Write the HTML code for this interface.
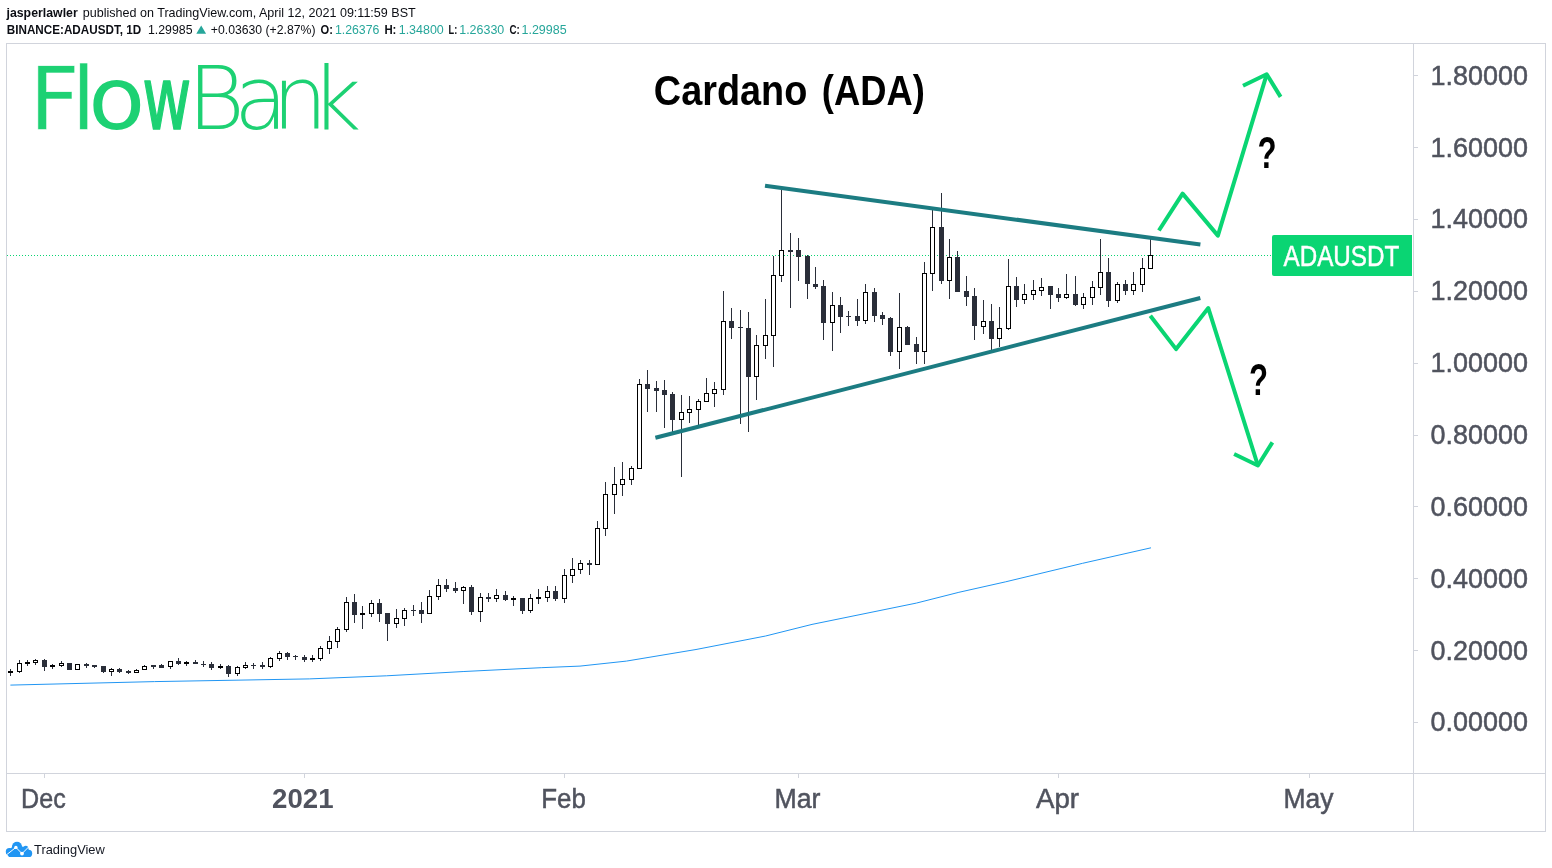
<!DOCTYPE html>
<html lang="en"><head><meta charset="utf-8"><title>Cardano (ADA) - ADAUSDT 1D</title>
<style>
html,body{margin:0;padding:0;background:#fff;}
body{width:1552px;height:868px;overflow:hidden;font-family:"Liberation Sans",sans-serif;}
svg{display:block}
text{font-family:"Liberation Sans",sans-serif;}
.b{font-weight:bold}
.ax .b{stroke:none}
.hd{font-size:13px;fill:#0c0e14}
.tl{fill:#26a69a}
.ax{font-size:27px;fill:#50535e;stroke:#50535e;stroke-width:0.5px}
.q{font-size:44.5px;font-weight:bold;fill:#000}
</style></head><body>
<svg width="1552" height="868" viewBox="0 0 1552 868">
<rect width="1552" height="868" fill="#fff"/>

<g class="hd">
<text x="6.5" y="17" class="b" textLength="71.2" lengthAdjust="spacingAndGlyphs">jasperlawler</text>
<text x="82.8" y="17" textLength="332.9" lengthAdjust="spacingAndGlyphs">published on TradingView.com, April 12, 2021 09:11:59 BST</text>
<text x="6.8" y="34" class="b" textLength="134.4" lengthAdjust="spacingAndGlyphs">BINANCE:ADAUSDT, 1D</text>
<text x="148" y="34" textLength="44.5" lengthAdjust="spacingAndGlyphs">1.29985</text>
<path d="M196.3 33.8 L201.2 25.6 L206.1 33.8 Z" fill="#26a69a"/>
<text x="210.8" y="34" textLength="104.7" lengthAdjust="spacingAndGlyphs">+0.03630 (+2.87%)</text>
<text x="320.6" y="34" class="b" textLength="12.4" lengthAdjust="spacingAndGlyphs">O:</text>
<text x="334.9" y="34" class="tl" textLength="44.5" lengthAdjust="spacingAndGlyphs">1.26376</text>
<text x="384.4" y="34" class="b" textLength="12.0" lengthAdjust="spacingAndGlyphs">H:</text>
<text x="398.7" y="34" class="tl" textLength="45.1" lengthAdjust="spacingAndGlyphs">1.34800</text>
<text x="448.6" y="34" class="b" textLength="8.7" lengthAdjust="spacingAndGlyphs">L:</text>
<text x="459.2" y="34" class="tl" textLength="45.1" lengthAdjust="spacingAndGlyphs">1.26330</text>
<text x="509.5" y="34" class="b" textLength="10.3" lengthAdjust="spacingAndGlyphs">C:</text>
<text x="521.5" y="34" class="tl" textLength="45.1" lengthAdjust="spacingAndGlyphs">1.29985</text>
</g>
<g fill="#d1d4dc" shape-rendering="crispEdges">
<rect x="6" y="43" width="1540" height="1"/>
<rect x="6" y="831" width="1540" height="1"/>
<rect x="6" y="43" width="1" height="789"/>
<rect x="1545" y="43" width="1" height="789"/>
<rect x="1413" y="43" width="1" height="789"/>
<rect x="6" y="773" width="1540" height="1"/>
</g>
<g fill="#d1d4dc" shape-rendering="crispEdges">
<rect x="1414" y="722" width="4" height="1"/>
<rect x="1414" y="650" width="4" height="1"/>
<rect x="1414" y="578" width="4" height="1"/>
<rect x="1414" y="506" width="4" height="1"/>
<rect x="1414" y="435" width="4" height="1"/>
<rect x="1414" y="363" width="4" height="1"/>
<rect x="1414" y="291" width="4" height="1"/>
<rect x="1414" y="219" width="4" height="1"/>
<rect x="1414" y="147" width="4" height="1"/>
<rect x="1414" y="75" width="4" height="1"/>
<rect x="44" y="774" width="1" height="4"/>
<rect x="304" y="774" width="1" height="4"/>
<rect x="564" y="774" width="1" height="4"/>
<rect x="798" y="774" width="1" height="4"/>
<rect x="1058" y="774" width="1" height="4"/>
<rect x="1309" y="774" width="1" height="4"/>
</g>
<g class="ax">
<text x="1430.6" y="731.4" textLength="97.4" lengthAdjust="spacingAndGlyphs">0.00000</text>
<text x="1430.6" y="659.5" textLength="97.4" lengthAdjust="spacingAndGlyphs">0.20000</text>
<text x="1430.6" y="587.7" textLength="97.4" lengthAdjust="spacingAndGlyphs">0.40000</text>
<text x="1430.6" y="515.8" textLength="97.4" lengthAdjust="spacingAndGlyphs">0.60000</text>
<text x="1430.6" y="444.0" textLength="97.4" lengthAdjust="spacingAndGlyphs">0.80000</text>
<text x="1430.6" y="372.1" textLength="97.4" lengthAdjust="spacingAndGlyphs">1.00000</text>
<text x="1430.6" y="300.3" textLength="97.4" lengthAdjust="spacingAndGlyphs">1.20000</text>
<text x="1430.6" y="228.4" textLength="97.4" lengthAdjust="spacingAndGlyphs">1.40000</text>
<text x="1430.6" y="156.6" textLength="97.4" lengthAdjust="spacingAndGlyphs">1.60000</text>
<text x="1430.6" y="84.8" textLength="97.4" lengthAdjust="spacingAndGlyphs">1.80000</text>
<text x="21.1" y="808" textLength="44.7" lengthAdjust="spacingAndGlyphs">Dec</text>
<text x="272.1" y="808" class="b" textLength="61.5" lengthAdjust="spacingAndGlyphs">2021</text>
<text x="541.2" y="808" textLength="44.6" lengthAdjust="spacingAndGlyphs">Feb</text>
<text x="774.5" y="808" textLength="46" lengthAdjust="spacingAndGlyphs">Mar</text>
<text x="1036.0" y="808" textLength="43" lengthAdjust="spacingAndGlyphs">Apr</text>
<text x="1283.5" y="808" textLength="50" lengthAdjust="spacingAndGlyphs">May</text>
</g>
<text y="129.2" fill="#1dd173" font-size="88" style="font-family:'DejaVu Sans','Liberation Sans',sans-serif"><tspan x="29.3 71.6" stroke="#fff" stroke-width="0.5">Fl</tspan><tspan x="88.3" textLength="57" lengthAdjust="spacingAndGlyphs">o</tspan><tspan x="142.3" textLength="49.1" lengthAdjust="spacingAndGlyphs" stroke="#1dd173" stroke-width="1.6" stroke-linejoin="round">w</tspan><tspan font-weight="200" x="187.2 234 272 310.5">Bank</tspan></text>
<text y="104.8" font-size="43" font-weight="bold" fill="#000"><tspan x="653.8" textLength="153.5" lengthAdjust="spacingAndGlyphs">Cardano</tspan> <tspan x="821.8" textLength="103" lengthAdjust="spacingAndGlyphs">(ADA)</tspan></text>
<polyline fill="none" stroke="#2196f3" stroke-width="1" points="10.4,685.1 154.6,681.6 309.3,678.9 386.6,675.8 463.9,671.5 541.2,667.7 580,666.1 626.4,661.1 696,649.5 765.6,636 812,624.4 916.3,603.1 958.9,592.3 1005.3,581.9 1082.6,563.3 1151,547.8"/>
<line x1="7" y1="255.5" x2="1272" y2="255.5" stroke="#0ad573" stroke-width="1" stroke-dasharray="1 2" shape-rendering="crispEdges"/>
<g shape-rendering="crispEdges">
<rect x="10" y="669" width="1" height="7" fill="#2a2e39"/>
<rect x="8" y="671" width="5" height="2" fill="#000000"/>
<rect x="19" y="660" width="1" height="13" fill="#2a2e39"/>
<rect x="17" y="663" width="5" height="9" fill="#000000"/>
<rect x="18" y="664" width="3" height="7" fill="#fff"/>
<rect x="27" y="660" width="1" height="6" fill="#2a2e39"/>
<rect x="25" y="662" width="5" height="2" fill="#000000"/>
<rect x="35" y="659" width="1" height="6" fill="#2a2e39"/>
<rect x="33" y="660" width="5" height="3" fill="#000000"/>
<rect x="34" y="661" width="3" height="1" fill="#fff"/>
<rect x="44" y="659" width="1" height="12" fill="#2a2e39"/>
<rect x="42" y="660" width="5" height="7" fill="#2a2e39"/>
<rect x="52" y="664" width="1" height="5" fill="#2a2e39"/>
<rect x="50" y="665" width="5" height="2" fill="#000000"/>
<rect x="61" y="661" width="1" height="6" fill="#2a2e39"/>
<rect x="59" y="663" width="5" height="3" fill="#000000"/>
<rect x="60" y="664" width="3" height="1" fill="#fff"/>
<rect x="69" y="663" width="1" height="7" fill="#2a2e39"/>
<rect x="67" y="663" width="5" height="7" fill="#2a2e39"/>
<rect x="77" y="664" width="1" height="6" fill="#2a2e39"/>
<rect x="75" y="664" width="5" height="6" fill="#000000"/>
<rect x="76" y="665" width="3" height="4" fill="#fff"/>
<rect x="86" y="663" width="1" height="5" fill="#2a2e39"/>
<rect x="84" y="664" width="5" height="2" fill="#2a2e39"/>
<rect x="94" y="665" width="1" height="3" fill="#2a2e39"/>
<rect x="92" y="665" width="5" height="2" fill="#2a2e39"/>
<rect x="103" y="666" width="1" height="7" fill="#2a2e39"/>
<rect x="101" y="666" width="5" height="6" fill="#2a2e39"/>
<rect x="111" y="668" width="1" height="8" fill="#2a2e39"/>
<rect x="109" y="669" width="5" height="3" fill="#000000"/>
<rect x="110" y="670" width="3" height="1" fill="#fff"/>
<rect x="119" y="668" width="1" height="5" fill="#2a2e39"/>
<rect x="117" y="669" width="5" height="3" fill="#2a2e39"/>
<rect x="128" y="670" width="1" height="4" fill="#2a2e39"/>
<rect x="126" y="671" width="5" height="2" fill="#2a2e39"/>
<rect x="136" y="669" width="1" height="4" fill="#2a2e39"/>
<rect x="134" y="670" width="5" height="3" fill="#000000"/>
<rect x="135" y="671" width="3" height="1" fill="#fff"/>
<rect x="144" y="665" width="1" height="5" fill="#2a2e39"/>
<rect x="142" y="666" width="5" height="4" fill="#000000"/>
<rect x="143" y="667" width="3" height="2" fill="#fff"/>
<rect x="153" y="665" width="1" height="4" fill="#2a2e39"/>
<rect x="151" y="665" width="5" height="2" fill="#2a2e39"/>
<rect x="161" y="664" width="1" height="4" fill="#2a2e39"/>
<rect x="159" y="665" width="5" height="3" fill="#2a2e39"/>
<rect x="170" y="661" width="1" height="8" fill="#2a2e39"/>
<rect x="168" y="661" width="5" height="6" fill="#000000"/>
<rect x="169" y="662" width="3" height="4" fill="#fff"/>
<rect x="178" y="658" width="1" height="7" fill="#2a2e39"/>
<rect x="176" y="661" width="5" height="3" fill="#2a2e39"/>
<rect x="186" y="661" width="1" height="5" fill="#2a2e39"/>
<rect x="184" y="662" width="5" height="2" fill="#000000"/>
<rect x="195" y="660" width="1" height="4" fill="#2a2e39"/>
<rect x="193" y="662" width="5" height="2" fill="#2a2e39"/>
<rect x="203" y="661" width="1" height="6" fill="#2a2e39"/>
<rect x="201" y="664" width="5" height="1" fill="#2a2e39"/>
<rect x="211" y="662" width="1" height="8" fill="#2a2e39"/>
<rect x="209" y="664" width="5" height="4" fill="#2a2e39"/>
<rect x="220" y="664" width="1" height="5" fill="#2a2e39"/>
<rect x="218" y="666" width="5" height="2" fill="#000000"/>
<rect x="228" y="665" width="1" height="12" fill="#2a2e39"/>
<rect x="226" y="666" width="5" height="8" fill="#2a2e39"/>
<rect x="237" y="666" width="1" height="10" fill="#2a2e39"/>
<rect x="235" y="667" width="5" height="7" fill="#000000"/>
<rect x="236" y="668" width="3" height="5" fill="#fff"/>
<rect x="245" y="662" width="1" height="7" fill="#2a2e39"/>
<rect x="243" y="665" width="5" height="3" fill="#000000"/>
<rect x="244" y="666" width="3" height="1" fill="#fff"/>
<rect x="253" y="663" width="1" height="6" fill="#2a2e39"/>
<rect x="251" y="665" width="5" height="1" fill="#2a2e39"/>
<rect x="262" y="662" width="1" height="7" fill="#2a2e39"/>
<rect x="260" y="665" width="5" height="2" fill="#2a2e39"/>
<rect x="270" y="657" width="1" height="11" fill="#2a2e39"/>
<rect x="268" y="658" width="5" height="9" fill="#000000"/>
<rect x="269" y="659" width="3" height="7" fill="#fff"/>
<rect x="279" y="651" width="1" height="10" fill="#2a2e39"/>
<rect x="277" y="653" width="5" height="6" fill="#000000"/>
<rect x="278" y="654" width="3" height="4" fill="#fff"/>
<rect x="287" y="652" width="1" height="8" fill="#2a2e39"/>
<rect x="285" y="653" width="5" height="4" fill="#2a2e39"/>
<rect x="295" y="655" width="1" height="5" fill="#2a2e39"/>
<rect x="293" y="656" width="5" height="1" fill="#2a2e39"/>
<rect x="304" y="655" width="1" height="7" fill="#2a2e39"/>
<rect x="302" y="657" width="5" height="3" fill="#2a2e39"/>
<rect x="312" y="655" width="1" height="7" fill="#2a2e39"/>
<rect x="310" y="658" width="5" height="2" fill="#000000"/>
<rect x="320" y="646" width="1" height="15" fill="#2a2e39"/>
<rect x="318" y="648" width="5" height="11" fill="#000000"/>
<rect x="319" y="649" width="3" height="9" fill="#fff"/>
<rect x="329" y="636" width="1" height="18" fill="#2a2e39"/>
<rect x="327" y="641" width="5" height="8" fill="#000000"/>
<rect x="328" y="642" width="3" height="6" fill="#fff"/>
<rect x="337" y="627" width="1" height="21" fill="#2a2e39"/>
<rect x="335" y="629" width="5" height="13" fill="#000000"/>
<rect x="336" y="630" width="3" height="11" fill="#fff"/>
<rect x="346" y="597" width="1" height="35" fill="#2a2e39"/>
<rect x="344" y="602" width="5" height="28" fill="#000000"/>
<rect x="345" y="603" width="3" height="26" fill="#fff"/>
<rect x="354" y="594" width="1" height="29" fill="#2a2e39"/>
<rect x="352" y="602" width="5" height="13" fill="#2a2e39"/>
<rect x="362" y="606" width="1" height="23" fill="#2a2e39"/>
<rect x="360" y="613" width="5" height="2" fill="#000000"/>
<rect x="371" y="600" width="1" height="17" fill="#2a2e39"/>
<rect x="369" y="603" width="5" height="11" fill="#000000"/>
<rect x="370" y="604" width="3" height="9" fill="#fff"/>
<rect x="379" y="599" width="1" height="23" fill="#2a2e39"/>
<rect x="377" y="603" width="5" height="11" fill="#2a2e39"/>
<rect x="387" y="613" width="1" height="28" fill="#2a2e39"/>
<rect x="385" y="613" width="5" height="11" fill="#2a2e39"/>
<rect x="396" y="609" width="1" height="19" fill="#2a2e39"/>
<rect x="394" y="618" width="5" height="6" fill="#000000"/>
<rect x="395" y="619" width="3" height="4" fill="#fff"/>
<rect x="404" y="608" width="1" height="18" fill="#2a2e39"/>
<rect x="402" y="610" width="5" height="9" fill="#000000"/>
<rect x="403" y="611" width="3" height="7" fill="#fff"/>
<rect x="413" y="605" width="1" height="11" fill="#2a2e39"/>
<rect x="411" y="610" width="5" height="1" fill="#2a2e39"/>
<rect x="421" y="602" width="1" height="21" fill="#2a2e39"/>
<rect x="419" y="610" width="5" height="4" fill="#2a2e39"/>
<rect x="429" y="590" width="1" height="24" fill="#2a2e39"/>
<rect x="427" y="596" width="5" height="18" fill="#000000"/>
<rect x="428" y="597" width="3" height="16" fill="#fff"/>
<rect x="438" y="579" width="1" height="21" fill="#2a2e39"/>
<rect x="436" y="585" width="5" height="12" fill="#000000"/>
<rect x="437" y="586" width="3" height="10" fill="#fff"/>
<rect x="446" y="579" width="1" height="13" fill="#2a2e39"/>
<rect x="444" y="585" width="5" height="4" fill="#2a2e39"/>
<rect x="455" y="582" width="1" height="11" fill="#2a2e39"/>
<rect x="453" y="588" width="5" height="3" fill="#2a2e39"/>
<rect x="463" y="586" width="1" height="18" fill="#2a2e39"/>
<rect x="461" y="587" width="5" height="4" fill="#000000"/>
<rect x="462" y="588" width="3" height="2" fill="#fff"/>
<rect x="471" y="585" width="1" height="30" fill="#2a2e39"/>
<rect x="469" y="587" width="5" height="25" fill="#2a2e39"/>
<rect x="480" y="593" width="1" height="29" fill="#2a2e39"/>
<rect x="478" y="597" width="5" height="15" fill="#000000"/>
<rect x="479" y="598" width="3" height="13" fill="#fff"/>
<rect x="488" y="593" width="1" height="9" fill="#2a2e39"/>
<rect x="486" y="597" width="5" height="2" fill="#2a2e39"/>
<rect x="496" y="589" width="1" height="13" fill="#2a2e39"/>
<rect x="494" y="595" width="5" height="4" fill="#000000"/>
<rect x="495" y="596" width="3" height="2" fill="#fff"/>
<rect x="505" y="591" width="1" height="10" fill="#2a2e39"/>
<rect x="503" y="595" width="5" height="5" fill="#2a2e39"/>
<rect x="513" y="596" width="1" height="10" fill="#2a2e39"/>
<rect x="511" y="598" width="5" height="2" fill="#000000"/>
<rect x="522" y="598" width="1" height="16" fill="#2a2e39"/>
<rect x="520" y="598" width="5" height="13" fill="#2a2e39"/>
<rect x="530" y="594" width="1" height="19" fill="#2a2e39"/>
<rect x="528" y="598" width="5" height="13" fill="#000000"/>
<rect x="529" y="599" width="3" height="11" fill="#fff"/>
<rect x="538" y="589" width="1" height="15" fill="#2a2e39"/>
<rect x="536" y="597" width="5" height="2" fill="#000000"/>
<rect x="547" y="586" width="1" height="16" fill="#2a2e39"/>
<rect x="545" y="591" width="5" height="7" fill="#000000"/>
<rect x="546" y="592" width="3" height="5" fill="#fff"/>
<rect x="555" y="586" width="1" height="15" fill="#2a2e39"/>
<rect x="553" y="591" width="5" height="8" fill="#2a2e39"/>
<rect x="564" y="569" width="1" height="34" fill="#2a2e39"/>
<rect x="562" y="575" width="5" height="24" fill="#000000"/>
<rect x="563" y="576" width="3" height="22" fill="#fff"/>
<rect x="572" y="558" width="1" height="25" fill="#2a2e39"/>
<rect x="570" y="569" width="5" height="7" fill="#000000"/>
<rect x="571" y="570" width="3" height="5" fill="#fff"/>
<rect x="580" y="560" width="1" height="14" fill="#2a2e39"/>
<rect x="578" y="563" width="5" height="7" fill="#000000"/>
<rect x="579" y="564" width="3" height="5" fill="#fff"/>
<rect x="589" y="560" width="1" height="15" fill="#2a2e39"/>
<rect x="587" y="563" width="5" height="2" fill="#2a2e39"/>
<rect x="597" y="521" width="1" height="44" fill="#2a2e39"/>
<rect x="595" y="528" width="5" height="37" fill="#000000"/>
<rect x="596" y="529" width="3" height="35" fill="#fff"/>
<rect x="605" y="482" width="1" height="54" fill="#2a2e39"/>
<rect x="603" y="494" width="5" height="35" fill="#000000"/>
<rect x="604" y="495" width="3" height="33" fill="#fff"/>
<rect x="614" y="467" width="1" height="47" fill="#2a2e39"/>
<rect x="612" y="484" width="5" height="11" fill="#000000"/>
<rect x="613" y="485" width="3" height="9" fill="#fff"/>
<rect x="622" y="462" width="1" height="34" fill="#2a2e39"/>
<rect x="620" y="479" width="5" height="6" fill="#000000"/>
<rect x="621" y="480" width="3" height="4" fill="#fff"/>
<rect x="631" y="466" width="1" height="19" fill="#2a2e39"/>
<rect x="629" y="468" width="5" height="12" fill="#000000"/>
<rect x="630" y="469" width="3" height="10" fill="#fff"/>
<rect x="639" y="379" width="1" height="90" fill="#2a2e39"/>
<rect x="637" y="384" width="5" height="85" fill="#000000"/>
<rect x="638" y="385" width="3" height="83" fill="#fff"/>
<rect x="647" y="370" width="1" height="42" fill="#2a2e39"/>
<rect x="645" y="384" width="5" height="5" fill="#2a2e39"/>
<rect x="656" y="381" width="1" height="31" fill="#2a2e39"/>
<rect x="654" y="388" width="5" height="3" fill="#2a2e39"/>
<rect x="664" y="380" width="1" height="48" fill="#2a2e39"/>
<rect x="662" y="390" width="5" height="5" fill="#2a2e39"/>
<rect x="672" y="392" width="1" height="40" fill="#2a2e39"/>
<rect x="670" y="394" width="5" height="26" fill="#2a2e39"/>
<rect x="681" y="395" width="1" height="82" fill="#2a2e39"/>
<rect x="679" y="412" width="5" height="8" fill="#000000"/>
<rect x="680" y="413" width="3" height="6" fill="#fff"/>
<rect x="689" y="396" width="1" height="27" fill="#2a2e39"/>
<rect x="687" y="409" width="5" height="4" fill="#000000"/>
<rect x="688" y="410" width="3" height="2" fill="#fff"/>
<rect x="698" y="399" width="1" height="26" fill="#2a2e39"/>
<rect x="696" y="401" width="5" height="9" fill="#000000"/>
<rect x="697" y="402" width="3" height="7" fill="#fff"/>
<rect x="706" y="378" width="1" height="24" fill="#2a2e39"/>
<rect x="704" y="393" width="5" height="9" fill="#000000"/>
<rect x="705" y="394" width="3" height="7" fill="#fff"/>
<rect x="714" y="382" width="1" height="25" fill="#2a2e39"/>
<rect x="712" y="389" width="5" height="5" fill="#000000"/>
<rect x="713" y="390" width="3" height="3" fill="#fff"/>
<rect x="723" y="291" width="1" height="104" fill="#2a2e39"/>
<rect x="721" y="321" width="5" height="69" fill="#000000"/>
<rect x="722" y="322" width="3" height="67" fill="#fff"/>
<rect x="731" y="308" width="1" height="31" fill="#2a2e39"/>
<rect x="729" y="321" width="5" height="7" fill="#2a2e39"/>
<rect x="740" y="310" width="1" height="114" fill="#2a2e39"/>
<rect x="738" y="327" width="5" height="1" fill="#2a2e39"/>
<rect x="748" y="312" width="1" height="120" fill="#2a2e39"/>
<rect x="746" y="328" width="5" height="49" fill="#2a2e39"/>
<rect x="756" y="335" width="1" height="65" fill="#2a2e39"/>
<rect x="754" y="345" width="5" height="32" fill="#000000"/>
<rect x="755" y="346" width="3" height="30" fill="#fff"/>
<rect x="765" y="299" width="1" height="60" fill="#2a2e39"/>
<rect x="763" y="335" width="5" height="11" fill="#000000"/>
<rect x="764" y="336" width="3" height="9" fill="#fff"/>
<rect x="773" y="256" width="1" height="111" fill="#2a2e39"/>
<rect x="771" y="275" width="5" height="61" fill="#000000"/>
<rect x="772" y="276" width="3" height="59" fill="#fff"/>
<rect x="781" y="190" width="1" height="92" fill="#2a2e39"/>
<rect x="779" y="250" width="5" height="26" fill="#000000"/>
<rect x="780" y="251" width="3" height="24" fill="#fff"/>
<rect x="790" y="233" width="1" height="75" fill="#2a2e39"/>
<rect x="788" y="250" width="5" height="2" fill="#2a2e39"/>
<rect x="798" y="238" width="1" height="43" fill="#2a2e39"/>
<rect x="796" y="250" width="5" height="7" fill="#2a2e39"/>
<rect x="807" y="255" width="1" height="44" fill="#2a2e39"/>
<rect x="805" y="256" width="5" height="28" fill="#2a2e39"/>
<rect x="815" y="267" width="1" height="22" fill="#2a2e39"/>
<rect x="813" y="284" width="5" height="3" fill="#2a2e39"/>
<rect x="823" y="280" width="1" height="60" fill="#2a2e39"/>
<rect x="821" y="286" width="5" height="37" fill="#2a2e39"/>
<rect x="832" y="292" width="1" height="59" fill="#2a2e39"/>
<rect x="830" y="305" width="5" height="18" fill="#000000"/>
<rect x="831" y="306" width="3" height="16" fill="#fff"/>
<rect x="840" y="297" width="1" height="36" fill="#2a2e39"/>
<rect x="838" y="305" width="5" height="12" fill="#2a2e39"/>
<rect x="848" y="311" width="1" height="15" fill="#2a2e39"/>
<rect x="846" y="316" width="5" height="1" fill="#2a2e39"/>
<rect x="857" y="299" width="1" height="27" fill="#2a2e39"/>
<rect x="855" y="316" width="5" height="5" fill="#2a2e39"/>
<rect x="865" y="284" width="1" height="40" fill="#2a2e39"/>
<rect x="863" y="292" width="5" height="29" fill="#000000"/>
<rect x="864" y="293" width="3" height="27" fill="#fff"/>
<rect x="874" y="288" width="1" height="34" fill="#2a2e39"/>
<rect x="872" y="292" width="5" height="24" fill="#2a2e39"/>
<rect x="882" y="312" width="1" height="13" fill="#2a2e39"/>
<rect x="880" y="315" width="5" height="4" fill="#2a2e39"/>
<rect x="890" y="317" width="1" height="39" fill="#2a2e39"/>
<rect x="888" y="318" width="5" height="34" fill="#2a2e39"/>
<rect x="899" y="293" width="1" height="76" fill="#2a2e39"/>
<rect x="897" y="327" width="5" height="25" fill="#000000"/>
<rect x="898" y="328" width="3" height="23" fill="#fff"/>
<rect x="907" y="326" width="1" height="19" fill="#2a2e39"/>
<rect x="905" y="327" width="5" height="18" fill="#2a2e39"/>
<rect x="916" y="337" width="1" height="27" fill="#2a2e39"/>
<rect x="914" y="344" width="5" height="8" fill="#2a2e39"/>
<rect x="924" y="262" width="1" height="102" fill="#2a2e39"/>
<rect x="922" y="273" width="5" height="79" fill="#000000"/>
<rect x="923" y="274" width="3" height="77" fill="#fff"/>
<rect x="932" y="210" width="1" height="81" fill="#2a2e39"/>
<rect x="930" y="227" width="5" height="47" fill="#000000"/>
<rect x="931" y="228" width="3" height="45" fill="#fff"/>
<rect x="941" y="193" width="1" height="91" fill="#2a2e39"/>
<rect x="939" y="227" width="5" height="54" fill="#2a2e39"/>
<rect x="949" y="239" width="1" height="60" fill="#2a2e39"/>
<rect x="947" y="257" width="5" height="24" fill="#000000"/>
<rect x="948" y="258" width="3" height="22" fill="#fff"/>
<rect x="957" y="251" width="1" height="41" fill="#2a2e39"/>
<rect x="955" y="257" width="5" height="35" fill="#2a2e39"/>
<rect x="966" y="276" width="1" height="30" fill="#2a2e39"/>
<rect x="964" y="291" width="5" height="6" fill="#2a2e39"/>
<rect x="974" y="288" width="1" height="52" fill="#2a2e39"/>
<rect x="972" y="296" width="5" height="30" fill="#2a2e39"/>
<rect x="983" y="300" width="1" height="34" fill="#2a2e39"/>
<rect x="981" y="321" width="5" height="6" fill="#000000"/>
<rect x="982" y="322" width="3" height="4" fill="#fff"/>
<rect x="991" y="304" width="1" height="46" fill="#2a2e39"/>
<rect x="989" y="321" width="5" height="18" fill="#2a2e39"/>
<rect x="999" y="307" width="1" height="40" fill="#2a2e39"/>
<rect x="997" y="328" width="5" height="11" fill="#000000"/>
<rect x="998" y="329" width="3" height="9" fill="#fff"/>
<rect x="1008" y="259" width="1" height="71" fill="#2a2e39"/>
<rect x="1006" y="286" width="5" height="43" fill="#000000"/>
<rect x="1007" y="287" width="3" height="41" fill="#fff"/>
<rect x="1016" y="277" width="1" height="30" fill="#2a2e39"/>
<rect x="1014" y="286" width="5" height="14" fill="#2a2e39"/>
<rect x="1024" y="284" width="1" height="20" fill="#2a2e39"/>
<rect x="1022" y="294" width="5" height="6" fill="#000000"/>
<rect x="1023" y="295" width="3" height="4" fill="#fff"/>
<rect x="1033" y="280" width="1" height="20" fill="#2a2e39"/>
<rect x="1031" y="290" width="5" height="5" fill="#000000"/>
<rect x="1032" y="291" width="3" height="3" fill="#fff"/>
<rect x="1041" y="278" width="1" height="18" fill="#2a2e39"/>
<rect x="1039" y="287" width="5" height="4" fill="#000000"/>
<rect x="1040" y="288" width="3" height="2" fill="#fff"/>
<rect x="1050" y="286" width="1" height="23" fill="#2a2e39"/>
<rect x="1048" y="286" width="5" height="9" fill="#2a2e39"/>
<rect x="1058" y="288" width="1" height="14" fill="#2a2e39"/>
<rect x="1056" y="294" width="5" height="4" fill="#2a2e39"/>
<rect x="1066" y="274" width="1" height="25" fill="#2a2e39"/>
<rect x="1064" y="294" width="5" height="4" fill="#000000"/>
<rect x="1065" y="295" width="3" height="2" fill="#fff"/>
<rect x="1075" y="276" width="1" height="30" fill="#2a2e39"/>
<rect x="1073" y="294" width="5" height="11" fill="#2a2e39"/>
<rect x="1083" y="293" width="1" height="16" fill="#2a2e39"/>
<rect x="1081" y="297" width="5" height="8" fill="#000000"/>
<rect x="1082" y="298" width="3" height="6" fill="#fff"/>
<rect x="1092" y="281" width="1" height="24" fill="#2a2e39"/>
<rect x="1090" y="287" width="5" height="11" fill="#000000"/>
<rect x="1091" y="288" width="3" height="9" fill="#fff"/>
<rect x="1100" y="239" width="1" height="56" fill="#2a2e39"/>
<rect x="1098" y="272" width="5" height="16" fill="#000000"/>
<rect x="1099" y="273" width="3" height="14" fill="#fff"/>
<rect x="1108" y="258" width="1" height="49" fill="#2a2e39"/>
<rect x="1106" y="272" width="5" height="29" fill="#2a2e39"/>
<rect x="1117" y="282" width="1" height="21" fill="#2a2e39"/>
<rect x="1115" y="284" width="5" height="17" fill="#000000"/>
<rect x="1116" y="285" width="3" height="15" fill="#fff"/>
<rect x="1125" y="280" width="1" height="15" fill="#2a2e39"/>
<rect x="1123" y="284" width="5" height="7" fill="#2a2e39"/>
<rect x="1133" y="272" width="1" height="23" fill="#2a2e39"/>
<rect x="1131" y="284" width="5" height="7" fill="#000000"/>
<rect x="1132" y="285" width="3" height="5" fill="#fff"/>
<rect x="1142" y="258" width="1" height="34" fill="#2a2e39"/>
<rect x="1140" y="268" width="5" height="17" fill="#000000"/>
<rect x="1141" y="269" width="3" height="15" fill="#fff"/>
<rect x="1150" y="238" width="1" height="31" fill="#2a2e39"/>
<rect x="1148" y="255" width="5" height="14" fill="#000000"/>
<rect x="1149" y="256" width="3" height="12" fill="#fff"/>
</g>
<g stroke="#1c7c82" stroke-width="4" fill="none">
<line x1="765" y1="185.8" x2="1200.4" y2="244.5"/>
<line x1="655.4" y1="437.8" x2="1200.3" y2="298"/>
</g>
<g stroke="#0ad573" stroke-width="4" fill="none" stroke-linejoin="round">
<polyline points="1158.9,230.5 1182.6,193.6 1217.9,235.6 1266.7,74.3"/>
<polyline points="1243,85.8 1266.7,74.3 1280.6,96.9"/>
<polyline points="1150.3,315.7 1176.1,349.1 1208.3,308.1 1257.9,465.5"/>
<polyline points="1234.1,454 1257.9,465.5 1272.4,442.4"/>
</g>
<text class="q" x="1257.5" y="168.2" textLength="19" lengthAdjust="spacingAndGlyphs">?</text>
<text class="q" x="1249" y="394.9" textLength="19" lengthAdjust="spacingAndGlyphs">?</text>
<path d="M1274 235 H1412 V276 H1274 a2 2 0 0 1 -2 -2 V237 a2 2 0 0 1 2 -2 Z" fill="#0ad573"/>
<text x="1283.6" y="265.8" font-size="30" fill="#fff" stroke="#fff" stroke-width="0.5" textLength="115.6" lengthAdjust="spacingAndGlyphs">ADAUSDT</text>
<g fill="#2196f3"><circle cx="9.4" cy="851.7" r="3.6"/><circle cx="17" cy="846.9" r="5.1"/><circle cx="25.8" cy="848.2" r="2.5"/><circle cx="28.6" cy="853.4" r="3.6"/><path d="M8 850 L14 846 L27 847 L31 853 L30 857.1 H9 L6 853 Z"/></g>
<polyline points="6.4,854.9 15.9,847.4 22,853.6 28.8,846.8" fill="none" stroke="#fff" stroke-width="1"/>
<circle cx="15.9" cy="847.4" r="1.7" fill="#fff"/><circle cx="22" cy="853.6" r="1.9" fill="#fff"/>
<text x="34" y="853.8" font-size="12.7" fill="#131722" textLength="70.8" lengthAdjust="spacingAndGlyphs">TradingView</text>
</svg>
</body></html>
